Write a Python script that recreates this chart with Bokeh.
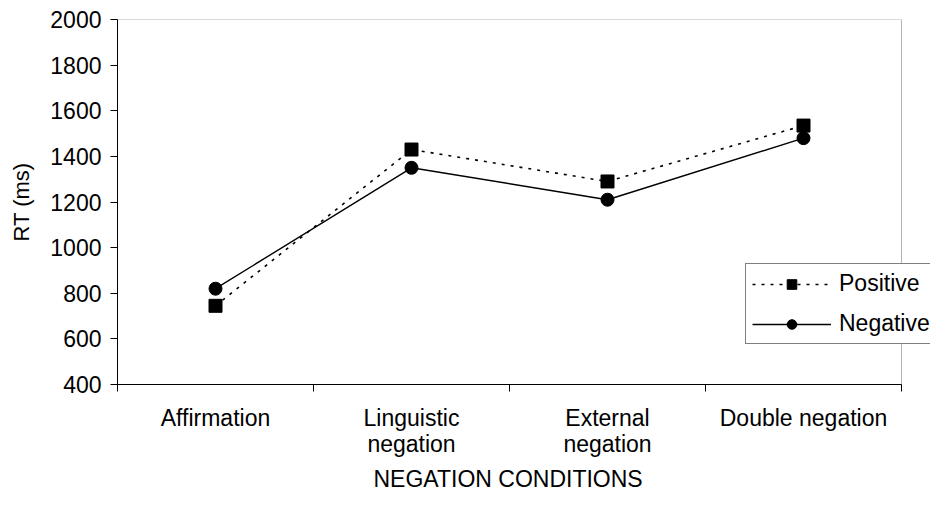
from bokeh.plotting import figure
from bokeh.models import (FixedTicker, LinearAxis, Range1d, Legend, LegendItem,
                          ColumnDataSource, BoxAnnotation, Title)
from bokeh.embed import file_html
from bokeh.resources import INLINE

categories = ["Affirmation", "Linguistic\nnegation", "External\nnegation", "Double negation"]
positive = [745, 1430, 1290, 1535]
negative = [820, 1350, 1210, 1480]
y_ticks = [400, 600, 800, 1000, 1200, 1400, 1600, 1800, 2000]
y_min, y_max = 400, 2000

n = len(categories)
xs = [i + 0.5 for i in range(n)]
FONT = "Liberation Sans"
FS = "23px"

# frame extends to the window edge so the legend can overhang the axis box
frame_left, box_right, win_w = 117, 901, 930
x_end = n * (win_w - frame_left) / (box_right - frame_left)

p = figure(width=930, height=507, output_backend="svg", toolbar_location=None,
           x_range=Range1d(0, x_end), y_range=Range1d(y_min, y_max),
           x_axis_location=None, y_axis_location=None,
           min_border_left=frame_left, min_border_right=0, min_border_top=19,
           min_border_bottom=123)
p.grid.visible = False
p.outline_line_color = None
p.background_fill_color = "white"
p.border_fill_color = "white"

# Y axis
yax = LinearAxis(ticker=FixedTicker(ticks=y_ticks), axis_label="RT (ms)")
yax.major_tick_out = 7
yax.major_tick_in = 0
yax.minor_tick_line_color = None
yax.major_label_text_font = FONT
yax.major_label_text_font_size = FS
yax.major_label_text_color = "black"
yax.major_label_standoff = 9
yax.axis_label_text_font = FONT
yax.axis_label_text_font_size = "22px"
yax.axis_label_text_font_style = "normal"
yax.axis_label_text_color = "black"
yax.axis_label_standoff = 13
yax.axis_line_color = "black"
yax.major_tick_line_color = "black"
p.add_layout(yax, "left")

# X axis: boundary ticks
xax = LinearAxis(ticker=FixedTicker(ticks=list(range(n + 1))), bounds=(0, n))
xax.major_tick_out = 7
xax.major_tick_in = 0
xax.minor_tick_line_color = None
xax.major_label_text_font_size = "0px"
xax.major_label_standoff = 0
xax.major_label_overrides = {i: "" for i in range(n + 1)}
xax.axis_line_color = "black"
xax.major_tick_line_color = "black"
p.add_layout(xax, "below")

# X axis: category labels
xlab = LinearAxis(ticker=FixedTicker(ticks=xs))
xlab.major_label_overrides = {x: c for x, c in zip(xs, categories)}
xlab.axis_line_color = None
xlab.major_tick_line_color = None
xlab.minor_tick_line_color = None
xlab.major_tick_out = 0
xlab.major_tick_in = 0
xlab.major_label_standoff = 13
xlab.major_label_text_font = FONT
xlab.major_label_text_font_size = FS
xlab.major_label_text_color = "black"
xlab.major_label_text_line_height = 1.0
p.add_layout(xlab, "below")

# x axis title, placed under the centre of the axis box
xtitle = Title(text="NEGATION CONDITIONS", align="left", offset=256,
               text_font=FONT, text_font_size=FS, text_font_style="normal",
               text_color="black", standoff=9)
p.add_layout(xtitle, "below")

# axis box (top and right edges)
p.add_layout(BoxAnnotation(left=0, right=n, bottom=y_min, top=y_max,
                           fill_alpha=0, line_color="black", line_width=1))

src = ColumnDataSource(dict(x=xs, pos=positive, neg=negative))

pl = p.line("x", "pos", source=src, line_color="black", line_width=1.6, line_dash="3 6")
ps = p.scatter("x", "pos", source=src, marker="square", size=13,
               fill_color="black", line_color="black")
nl = p.line("x", "neg", source=src, line_color="black", line_width=1.4)
nc = p.scatter("x", "neg", source=src, marker="circle", size=13,
               fill_color="black", line_color="black")

legend = Legend(items=[LegendItem(label="Positive", renderers=[pl, ps]),
                       LegendItem(label="Negative", renderers=[nl, nc])],
                location=(628, 40))
legend.glyph_width = 79
legend.glyph_height = 24
legend.label_standoff = 8
legend.label_height = 24
legend.spacing = 13
legend.padding = 6
legend.margin = 0
legend.label_text_font = FONT
legend.label_text_font_size = FS
legend.label_text_color = "black"
legend.border_line_color = "black"
legend.border_line_width = 1
legend.background_fill_alpha = 1
p.add_layout(legend, "center")

open("out.html", "w").write(file_html(p, INLINE))
